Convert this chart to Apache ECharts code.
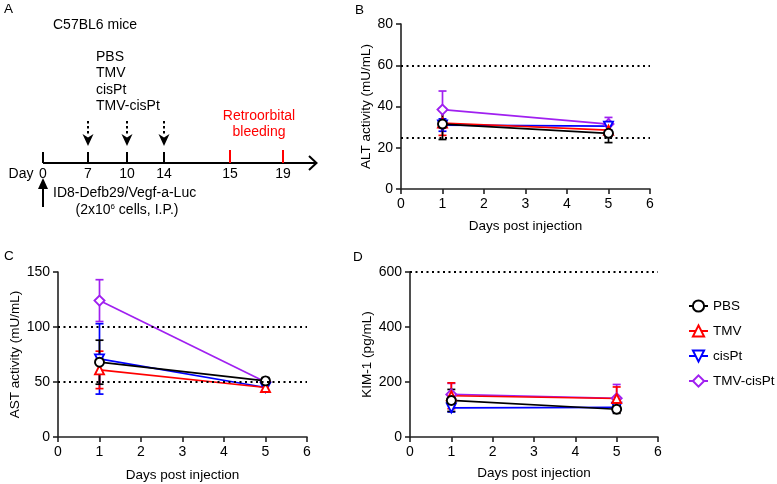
<!DOCTYPE html>
<html><head><meta charset="utf-8">
<script src="https://cdn.jsdelivr.net/npm/echarts@6/dist/echarts.min.js"></script>
<style>html,body{margin:0;padding:0;background:#fff}#c{width:777px;height:484px}</style>
</head><body><div id="c"></div>
<script>
// ---- data ----
const groups = ['PBS', 'TMV', 'cisPt', 'TMV-cisPt'];
const days = [1, 5];
const altMean = { 'PBS': [31.5, 27], 'TMV': [32, 28.5], 'cisPt': [31, 30.5], 'TMV-cisPt': [38.5, 31.5] };
const altErr  = { 'PBS': [7.5, 4.5], 'TMV': [6, 3], 'cisPt': [3, 2], 'TMV-cisPt': [9, 3.2] };
const astMean = { 'PBS': [68, 51], 'TMV': [61, 45], 'cisPt': [71, 45], 'TMV-cisPt': [124, 50] };
const astErr  = { 'PBS': [20, 3], 'TMV': [17, 3], 'cisPt': [32, 3], 'TMV-cisPt': [19, 2] };
const kimMean = { 'PBS': [133, 101], 'TMV': [150, 140], 'cisPt': [106, 108], 'TMV-cisPt': [155, 141] };
const kimErr  = { 'PBS': [40, 15], 'TMV': [47, 42], 'cisPt': [15, 15], 'TMV-cisPt': [40, 50] };
const altRef = [25, 60];
const astRef = [50, 100];
const kimRef = [600];
const timelineDays = ['0', '7', '10', '14', '15', '19'];
const treatments = ['PBS', 'TMV', 'cisPt', 'TMV-cisPt'];

// ---- styles ----
const FONT = 'Liberation Sans, Arial, sans-serif';
const FS = 13.5;
const colors = { 'PBS': '#000000', 'TMV': '#ff0000', 'cisPt': '#0000ff', 'TMV-cisPt': '#a020f0' };
const symbols = { 'PBS': ['circle', 0], 'TMV': ['triangle', 0], 'cisPt': ['triangle', 180], 'TMV-cisPt': ['diamond', 0] };
const drawOrder = ['TMV-cisPt', 'cisPt', 'TMV', 'PBS'];

const panels = [
  { mean: altMean, err: altErr, ref: altRef, grid: { left: 401, top: 24, width: 249, height: 165 }, ymax: 80, yint: 20, yname: 'ALT activity (mU/mL)', ygap: 27, xgap: 30 },
  { mean: astMean, err: astErr, ref: astRef, grid: { left: 58, top: 272, width: 249, height: 165 }, ymax: 150, yint: 50, yname: 'AST activity (mU/mL)', ygap: 31, xgap: 31 },
  { mean: kimMean, err: kimErr, ref: kimRef, grid: { left: 410, top: 272, width: 248, height: 165 }, ymax: 600, yint: 200, yname: 'KIM-1 (pg/mL)', ygap: 34, xgap: 29 }
];

const axisLine = { lineStyle: { color: '#222', width: 1.6 } };
const axisTick = { length: 5, lineStyle: { color: '#222', width: 1.6 } };
const axisLabel = { color: '#000', fontSize: 14, fontFamily: FONT };
const nameStyle = { color: '#000', fontSize: FS, fontFamily: FONT };

const grids = [], xAxes = [], yAxes = [], series = [];
panels.forEach((p, i) => {
  grids.push(p.grid);
  xAxes.push({ gridIndex: i, type: 'value', min: 0, max: 6, interval: 1, axisLine: Object.assign({ onZero: false }, axisLine), axisTick, axisLabel, splitLine: { show: false },
    name: 'Days post injection', nameLocation: 'middle', nameGap: p.xgap, nameTextStyle: nameStyle });
  yAxes.push({ gridIndex: i, type: 'value', min: 0, max: p.ymax, interval: p.yint, axisLine: Object.assign({ show: true }, axisLine), axisTick: Object.assign({ show: true }, axisTick), axisLabel, splitLine: { show: false },
    name: p.yname, nameLocation: 'middle', nameGap: p.ygap, nameRotate: 90, nameTextStyle: nameStyle });
  // reference lines
  series.push({ type: 'line', xAxisIndex: i, yAxisIndex: i, data: [], silent: true,
    markLine: { silent: true, symbol: ['none', 'none'], label: { show: false },
      lineStyle: { color: '#000', width: 2, type: [2, 3.5] },
      data: p.ref.map(v => ({ yAxis: v })) } });
  drawOrder.forEach(g => {
    const c = colors[g];
    series.push({ type: 'custom', xAxisIndex: i, yAxisIndex: i, silent: true,
      data: days.map((d, k) => [d, p.mean[g][k] - p.err[g][k], p.mean[g][k] + p.err[g][k]]),
      renderItem: (params, api) => {
        const x = api.value(0), lo = api.value(1), hi = api.value(2);
        const a = api.coord([x, hi]), b = api.coord([x, lo]);
        const w = 4, st = { stroke: c, lineWidth: 1.7 };
        return { type: 'group', children: [
          { type: 'line', shape: { x1: a[0], y1: a[1], x2: b[0], y2: b[1] }, style: st },
          { type: 'line', shape: { x1: a[0] - w, y1: a[1], x2: a[0] + w, y2: a[1] }, style: st },
          { type: 'line', shape: { x1: b[0] - w, y1: b[1], x2: b[0] + w, y2: b[1] }, style: st }
        ] };
      } });
    series.push({ type: 'line', name: g, xAxisIndex: i, yAxisIndex: i,
      data: days.map((d, k) => [d, p.mean[g][k]]),
      symbol: symbols[g][0], symbolRotate: symbols[g][1], symbolSize: g === 'TMV-cisPt' ? 10 : 9, showAllSymbol: true,
      lineStyle: { color: c, width: 1.7 },
      itemStyle: { color: '#ffffff', borderColor: c, borderWidth: 1.9 } });
  });
});

// ---- panel A diagram ----
const tickX = [43, 88, 127, 164, 230, 283];
const tickRed = [false, false, false, false, true, true];
const lineY = 163;
const gfx = [];
const txt = (x, y, s, opt, size) => ({ type: 'text', x, y, silent: true,
  style: Object.assign({ text: s, fill: '#000', font: (size || 14) + 'px ' + FONT, textAlign: 'left', textVerticalAlign: 'middle' }, opt || {}) });
gfx.push(txt(4, 9, 'A', null, FS), txt(355, 10, 'B', null, FS), txt(4, 256, 'C', null, FS), txt(353, 257, 'D', null, FS));
gfx.push(txt(53, 25, 'C57BL6 mice'));
treatments.forEach((t, k) => gfx.push(txt(96, 57 + k * 16.5, t)));
[1, 2, 3].forEach(k => {
  const x = tickX[k];
  gfx.push({ type: 'line', silent: true, shape: { x1: x, y1: 121, x2: x, y2: 135 }, style: { stroke: '#000', lineWidth: 2, lineDash: [2.5, 2.5] } });
  gfx.push({ type: 'polygon', silent: true, shape: { points: [[x - 5.5, 134], [x, 137.5], [x + 5.5, 134], [x, 146]] }, style: { fill: '#000' } });
});
gfx.push({ type: 'line', silent: true, shape: { x1: 43, y1: lineY, x2: 316, y2: lineY }, style: { stroke: '#000', lineWidth: 2 } });
gfx.push({ type: 'polyline', silent: true, shape: { points: [[309, 156], [316.5, lineY], [309, 170]] }, style: { stroke: '#000', lineWidth: 2, fill: null } });
tickX.forEach((x, k) => {
  gfx.push({ type: 'line', silent: true, shape: { x1: x, y1: tickRed[k] ? 150 : 152, x2: x, y2: lineY }, style: { stroke: tickRed[k] ? '#ff0000' : '#000', lineWidth: 2 } });
  gfx.push(txt(x, 174, timelineDays[k], { textAlign: 'center' }));
});
gfx.push(txt(21, 174, 'Day', { textAlign: 'center' }));
gfx.push(txt(259, 116, 'Retroorbital', { textAlign: 'center', fill: '#ff0000' }));
gfx.push(txt(259, 132, 'bleeding', { textAlign: 'center', fill: '#ff0000' }));
gfx.push({ type: 'line', silent: true, shape: { x1: 43, y1: 207, x2: 43, y2: 186 }, style: { stroke: '#000', lineWidth: 2 } });
gfx.push({ type: 'polygon', silent: true, shape: { points: [[38, 189], [43, 178], [48, 189]] }, style: { fill: '#000' } });
gfx.push(txt(53, 193, 'ID8-Defb29/Vegf-a-Luc'));
gfx.push({ type: 'text', x: 127, y: 210, silent: true, style: { text: '(2x10{s|6} cells, I.P.)', rich: { s: { fontSize: 8, verticalAlign: 'top', lineHeight: 14, fontFamily: FONT, fill: '#000' } }, fill: '#000', font: '14px ' + FONT, textAlign: 'center', textVerticalAlign: 'middle' } });

const chart = echarts.init(document.getElementById('c'), null, { renderer: 'canvas' });
chart.setOption({
  animation: false,
  textStyle: { fontFamily: FONT },
  grid: grids, xAxis: xAxes, yAxis: yAxes, series,
  legend: { orient: 'vertical', left: 683, top: 294, itemWidth: 19, itemHeight: 14, itemGap: 11,
    data: groups, textStyle: { color: '#000', fontSize: FS, fontFamily: FONT } },
  graphic: gfx
});
</script></body></html>
